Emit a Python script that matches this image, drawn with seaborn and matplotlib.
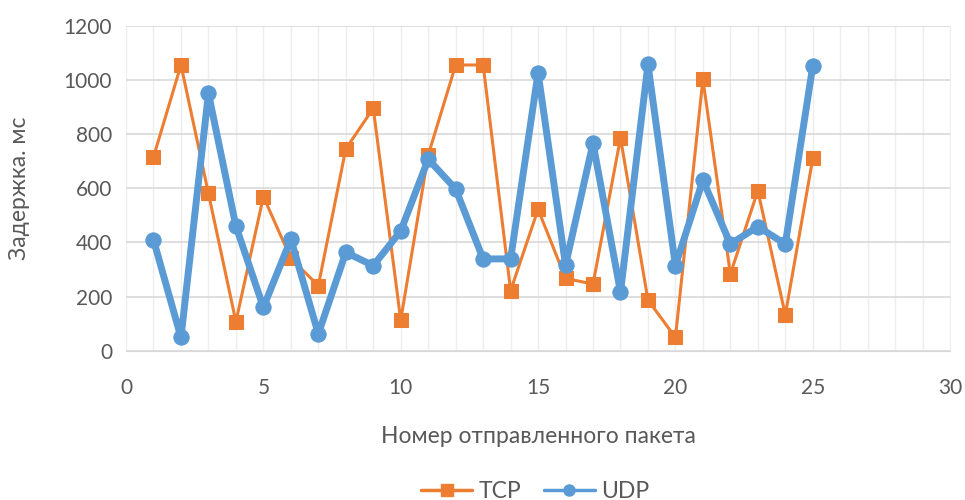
import pandas as pd
import numpy as np
import seaborn as sns
import matplotlib.pyplot as plt
from matplotlib.ticker import MultipleLocator
from matplotlib.lines import Line2D

# Packet numbers and delays (ms)
packets = list(range(1, 26))
tcp_delay = [715, 1055, 581, 107, 569, 341, 240, 745, 895, 113, 722, 1055, 1055,
             222, 522, 267, 246, 786, 187, 49, 1002, 283, 591, 132, 710]
udp_delay = [409, 49, 950, 460, 160, 412, 62, 363, 314, 442, 707, 597, 339,
             339, 1026, 316, 766, 216, 1057, 314, 630, 394, 458, 394, 1052]

x_ticks = [0, 5, 10, 15, 20, 25, 30]
y_ticks = [0, 200, 400, 600, 800, 1000, 1200]

df = pd.DataFrame({'packet': packets, 'TCP': tcp_delay, 'UDP': udp_delay})

sns.set_style('white')
plt.rcParams['font.family'] = ['Lato', 'DejaVu Sans']

fig = plt.figure(figsize=(9.65, 5), dpi=100)
ax = fig.add_axes([0.1306, 0.2986, 0.854, 0.65])

orange = '#ED7D31'
blue = '#5B9BD5'
text_col = '#595959'

sns.lineplot(data=df, x='packet', y='TCP', ax=ax, color=orange, linewidth=2.2,
             marker='s', markersize=10, markeredgecolor=orange, zorder=3)
sns.lineplot(data=df, x='packet', y='UDP', ax=ax, color=blue, linewidth=5,
             marker='o', markersize=11, markeredgecolor=blue, zorder=4)

ax.set_xlim(0, 30)
ax.set_ylim(0, 1200)
ax.set_xticks(x_ticks)
ax.set_yticks(y_ticks)
ax.xaxis.set_minor_locator(MultipleLocator(1))
ax.grid(axis='y', which='major', color='#D9D9D9', linewidth=1.2)
ax.grid(axis='x', which='minor', color='#EEEEEE', linewidth=1)
ax.grid(axis='x', which='major', color='#EEEEEE', linewidth=1)
ax.set_axisbelow(True)
for s in ['left', 'top']:
    ax.spines[s].set_visible(False)
ax.spines['bottom'].set_color('#D9D9D9')
ax.spines['right'].set_color('#EEEEEE')
ax.tick_params(axis='both', which='both', length=0, labelsize=15, colors=text_col)
ax.tick_params(axis='x', pad=20)
ax.tick_params(axis='y', pad=10)

ax.set_xlabel('Номер отправленного пакета', fontsize=16.5, color=text_col, labelpad=20)
ax.set_ylabel('Задержка. мс', fontsize=16.5, color=text_col, labelpad=24)

handles = [
    Line2D([], [], color=orange, linewidth=2.5, marker='s', markersize=8),
    Line2D([], [], color=blue, linewidth=2.5, marker='o', markersize=8),
]
fig.legend(handles, ['TCP', 'UDP'], loc='lower center', bbox_to_anchor=(0.555, -0.045), ncol=2,
           frameon=False, fontsize=16.5, labelcolor=text_col, handlelength=2.2,
           columnspacing=1.0, handletextpad=0.3)

fig.savefig('out.png', dpi=100)
